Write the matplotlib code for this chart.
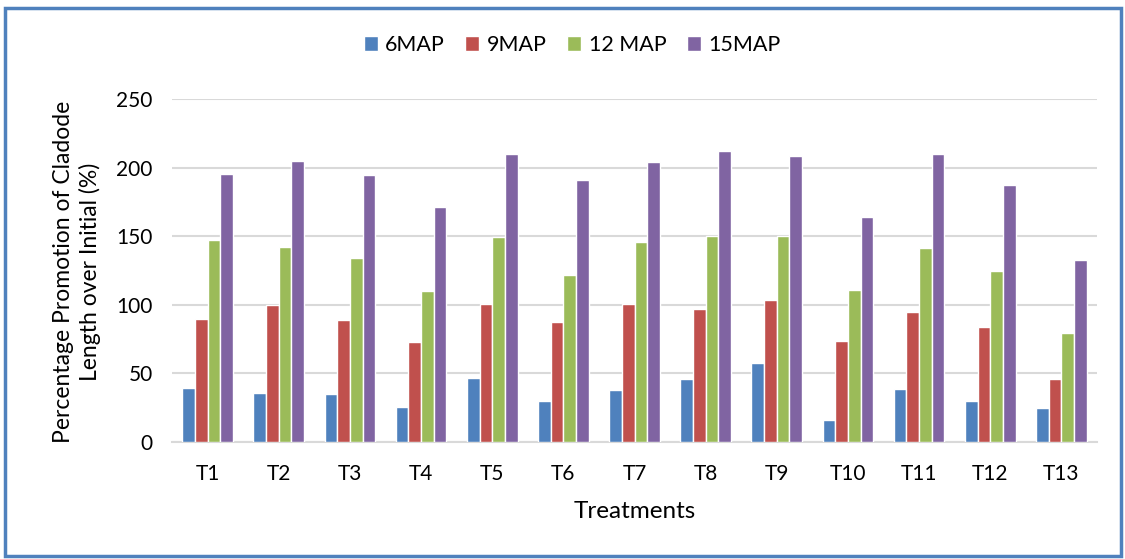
import matplotlib
matplotlib.use("Agg")
import matplotlib.pyplot as plt
from matplotlib.patches import Rectangle
import numpy as np

plt.rcParams['font.family'] = ['Lato', 'DejaVu Sans']

treatments = ["T1", "T2", "T3", "T4", "T5", "T6", "T7", "T8", "T9", "T10", "T11", "T12", "T13"]
series_names = ["6MAP", "9MAP", "12 MAP", "15MAP"]
map6 = [39.6, 35.4, 34.7, 25.7, 46.8, 30.1, 38.1, 46.1, 57.8, 16.0, 38.3, 29.6, 25.0]
map9 = [89.5, 100.2, 89.0, 73.0, 100.7, 87.8, 100.7, 97.1, 103.4, 73.3, 94.6, 83.5, 45.6]
map12 = [147.3, 142.2, 134.2, 110.4, 149.7, 122.0, 146.0, 150.4, 150.0, 110.6, 141.7, 125.0, 79.8]
map15 = [195.0, 204.5, 194.8, 171.0, 209.9, 191.0, 203.8, 211.8, 208.4, 164.0, 209.6, 187.6, 132.7]
colors = ["#4F81BD", "#C0504D", "#9BBB59", "#8064A2"]
yticks = [0, 50, 100, 150, 200, 250]

W, H = 1125, 559
fig = plt.figure(figsize=(W / 100, H / 100), dpi=100)
ax = fig.add_axes([172 / W, 1 - 442 / H, (1097 - 172) / W, (442 - 99) / H])

x = np.arange(len(treatments))
pitch = 0.178
for i, (vals, c, name) in enumerate(zip([map6, map9, map12, map15], colors, series_names)):
    ax.bar(x + (i - 1.5) * pitch, vals, width=pitch, color=c, edgecolor="white",
           linewidth=1.0, label=name, zorder=3)

ax.set_xlim(-0.5, len(treatments) - 0.5)
ax.set_ylim(0, 250)
ax.set_yticks(yticks)
ax.set_xticks(x)
ax.set_xticklabels(treatments)
ax.yaxis.grid(True, color="#D9D9D9", linewidth=1.5, zorder=0)
ax.set_axisbelow(True)
for s in ["top", "right", "left"]:
    ax.spines[s].set_visible(False)
ax.spines["bottom"].set_color("#D9D9D9")
ax.spines["bottom"].set_linewidth(1.5)
ax.tick_params(axis="both", length=0, labelsize=15, colors="black")
ax.tick_params(axis="y", pad=14)
ax.tick_params(axis="x", pad=16)

ax.set_xlabel("Treatments", fontsize=17.5, labelpad=12)
fig.text(77 / W, 1 - 272 / H, "Percentage Promotion of Cladode\nLength over Initial (%)",
         rotation=90, ha="center", va="center", fontsize=16.5, linespacing=1.25)

fig.legend(loc="center", bbox_to_anchor=(572 / W, 1 - 45 / H), ncol=4, frameon=False,
           fontsize=15.5, handlelength=0.65, handleheight=0.65, handletextpad=0.35,
           columnspacing=0.95)

fig.patches.append(Rectangle((5 / W, 3 / H), (W - 9) / W, (H - 11) / H,
                             transform=fig.transFigure, fill=False,
                             edgecolor="#4F81BD", linewidth=2.5))

fig.savefig("out.png", dpi=100)
